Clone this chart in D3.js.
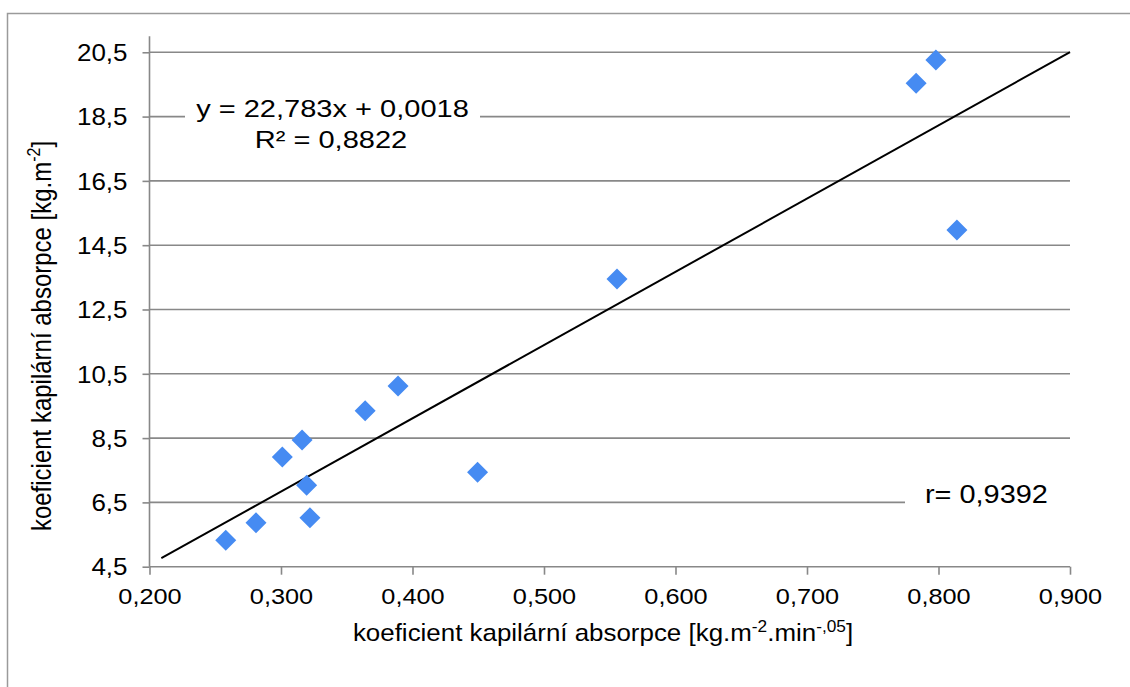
<!DOCTYPE html>
<html><head><meta charset="utf-8">
<script src="https://cdn.jsdelivr.net/npm/d3@7/dist/d3.min.js"></script>
<style>body{margin:0;background:#fff}svg{display:block}text{font-family:"Liberation Sans",Arial,sans-serif;fill:#000}</style>
</head><body>
<svg id="c" width="1130" height="687"></svg>
<script>
const xValues = [0.258, 0.281, 0.301, 0.316, 0.3195, 0.322, 0.364, 0.389, 0.4495, 0.5555, 0.783, 0.798, 0.814];
const yValues = [5.32, 5.87, 7.91, 8.44, 7.03, 6.02, 9.35, 10.12, 7.44, 13.45, 19.54, 20.26, 14.97];
const xTicks = [0.2, 0.3, 0.4, 0.5, 0.6, 0.7, 0.8, 0.9];
const yTicks = [4.5, 6.5, 8.5, 10.5, 12.5, 14.5, 16.5, 18.5, 20.5];
const slope = 22.783, intercept = 0.0018;
const trendRange = [0.209, 0.9];
const eqLines = ["y = 22,783x + 0,0018", "R² = 0,8822"];
const rLabel = "r= 0,9392";

const svg = d3.select("#c");
svg.append("path").attr("d","M7.5,687 V13.5 H1130").attr("fill","none").attr("stroke","#9a9a9a").attr("stroke-width",1.5);

const x = d3.scaleLinear().domain([0.2, 0.9]).range([149.5, 1070]);
const y = d3.scaleLinear().domain([4.5, 21]).range([566.7, 36.2]);
const fmt = (d, n) => d.toFixed(n).replace(".", ",");

// gridlines
svg.append("g").selectAll("line").data(yTicks.slice(1)).join("line")
  .attr("x1", x(0.2)).attr("x2", x(0.9)).attr("y1", d=>y(d)).attr("y2", d=>y(d))
  .attr("stroke","#888").attr("stroke-width",1.6);

// y axis
const ya = svg.append("g").attr("transform",`translate(${x(0.2)},0)`)
  .call(d3.axisLeft(y).tickValues(yTicks).tickSize(7).tickPadding(6).tickFormat(d=>fmt(d,1)));
ya.select(".domain").attr("stroke","#888").attr("stroke-width",1.6).attr("d",`M-0,${y(21)}V${y(4.5)}`);
ya.selectAll(".tick line").attr("stroke","#888").attr("stroke-width",1.6);
ya.selectAll(".tick text").style("font-size","23px").attr("x",0).attr("dy","0.36em")
  .attr("transform","translate(-22,0) scale(1.13,1)");

// x axis
const xa = svg.append("g").attr("transform",`translate(0,${y(4.5)})`)
  .call(d3.axisBottom(x).tickValues(xTicks).tickSize(8).tickPadding(6).tickFormat(d=>fmt(d,3)));
xa.select(".domain").attr("stroke","#888").attr("stroke-width",1.6).attr("d",`M${x(0.2)},0H${x(0.9)}`);
xa.selectAll(".tick line").attr("stroke","#888").attr("stroke-width",1.6);
xa.selectAll(".tick text").style("font-size","22px").attr("y",37.5).attr("dy",0)
  .attr("transform","scale(1.15,1)");

// axis titles
const xt = svg.append("text").attr("x", 0).attr("y", 0).attr("text-anchor","middle").style("font-size","24px")
  .attr("transform","translate(603,641) scale(1.08,1)");
xt.append("tspan").text("koeficient kapilární absorpce [kg.m");
xt.append("tspan").attr("baseline-shift","super").style("font-size","16px").text("-2");
xt.append("tspan").text(".min");
xt.append("tspan").attr("baseline-shift","super").style("font-size","16px").text("-,05");
xt.append("tspan").text("]");

const yt = svg.append("text").attr("transform","translate(51,336) scale(1.18,1) rotate(-90)").attr("text-anchor","middle").style("font-size","24px");
yt.append("tspan").text("koeficient kapilární absorpce [kg.m");
yt.append("tspan").attr("baseline-shift","super").style("font-size","16px").text("-2");
yt.append("tspan").text("]");

// trendline
svg.append("line")
  .attr("x1", x(trendRange[0])).attr("y1", y(slope*trendRange[0]+intercept))
  .attr("x2", x(trendRange[1])).attr("y2", y(slope*trendRange[1]+intercept))
  .attr("stroke","#000").attr("stroke-width",2);

// points
const data = xValues.map((v,i)=>({x:v,y:yValues[i]}));
svg.append("g").selectAll("path").data(data).join("path")
  .attr("transform", d=>`translate(${x(d.x)},${y(d.y)})`)
  .attr("d", "M0,-10.5L10.5,0L0,10.5L-10.5,0Z")
  .attr("fill","#468bf2");

// equation label
svg.append("rect").attr("x",185).attr("y",88).attr("width",295).attr("height",66).attr("fill","#fff");
svg.append("text").attr("text-anchor","middle").style("font-size","24px")
  .attr("transform","translate(332.5,117.3) scale(1.21,1)").text(eqLines[0]);
svg.append("text").attr("text-anchor","middle").style("font-size","24px")
  .attr("transform","translate(331,148.3) scale(1.21,1)").text(eqLines[1]);

// r label
svg.append("rect").attr("x",905).attr("y",478).attr("width",170).attr("height",40).attr("fill","#fff");
svg.append("text").style("font-size","25px")
  .attr("transform","translate(925,503.3) scale(1.156,1)").text(rLabel);
</script>
</body></html>
